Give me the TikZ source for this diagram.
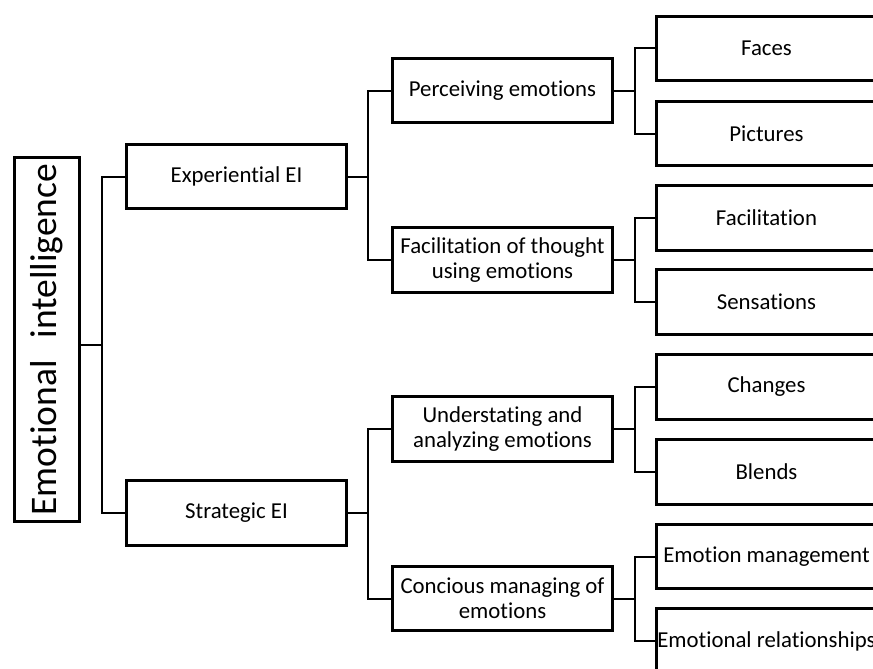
\documentclass[tikz,border=0pt]{standalone}
\usepackage{fontspec}
\setmainfont[RawFeature={-liga,-clig,-calt,-dlig}]{Carlito}
\usepackage{graphicx}
\begin{document}
\begin{tikzpicture}[x=1pt,y=-1pt,
  box/.style={draw,line width=3.2pt,minimum width=220pt,minimum height=64.5pt,inner sep=0pt,align=center,font=\fontsize{22.8}{25}\selectfont},
  rootbox/.style={draw,line width=3.2pt,minimum width=65pt,minimum height=364pt,inner sep=0pt},
  conn/.style={line width=2pt}]
\useasboundingbox (0,0) rectangle (873,669);
\clip (0,0) rectangle (873,669);
% level 1
\node[rootbox] (root) at (47,339.5) {\rotatebox{90}{\fontsize{37.5}{40}\selectfont Emotional\hspace{0.35em} intelligence}};
% level 2
\node[box] (exp) at (236.5,176.5) {Experiential EI};
\node[box] (str) at (236.5,513) {Strategic EI};
% level 3
\node[box] (perc) at (502.5,90.5) {Perceiving emotions};
\node[box] (fac) at (502.5,260) {Facilitation of thought\\using emotions};
\node[box] (und) at (502.5,429) {Understating and\\analyzing emotions};
\node[box] (con) at (502.5,598.5) {Concious managing of\\emotions};
% level 4
\node[box] (faces) at (766.5,48.5) {Faces};
\node[box] (pict) at (766.5,133.5) {Pictures};
\node[box] (facil) at (766.5,218) {Facilitation};
\node[box] (sens) at (766.5,302) {Sensations};
\node[box] (chg) at (766.5,387) {Changes};
\node[box] (bld) at (766.5,472) {Blends};
\node[box] (emm) at (766.5,556.5) {Emotion management};
\node[box] (emr) at (766.5,641) {Emotional relationships};
% junctions
\coordinate (j0) at (102,345);
\coordinate (j1) at (368,176.5);
\coordinate (j2) at (368,513);
\coordinate (j3) at (635,90.5);
\coordinate (j4) at (635,260);
\coordinate (j5) at (635,429);
\coordinate (j6) at (635,598.5);
% connectors
\draw[conn] (root.east |- j0) -- (j0);
\draw[conn] (exp.west) -| (j0) |- (str.west);
\draw[conn] (exp.east) -- (j1);
\draw[conn] (perc.west) -| (j1) |- (fac.west);
\draw[conn] (str.east) -- (j2);
\draw[conn] (und.west) -| (j2) |- (con.west);
\draw[conn] (perc.east) -- (j3);
\draw[conn] (faces.west) -| (j3) |- (pict.west);
\draw[conn] (fac.east) -- (j4);
\draw[conn] (facil.west) -| (j4) |- (sens.west);
\draw[conn] (und.east) -- (j5);
\draw[conn] (chg.west) -| (j5) |- (bld.west);
\draw[conn] (con.east) -- (j6);
\draw[conn] (emm.west) -| (j6) |- (emr.west);
\end{tikzpicture}
\end{document}
